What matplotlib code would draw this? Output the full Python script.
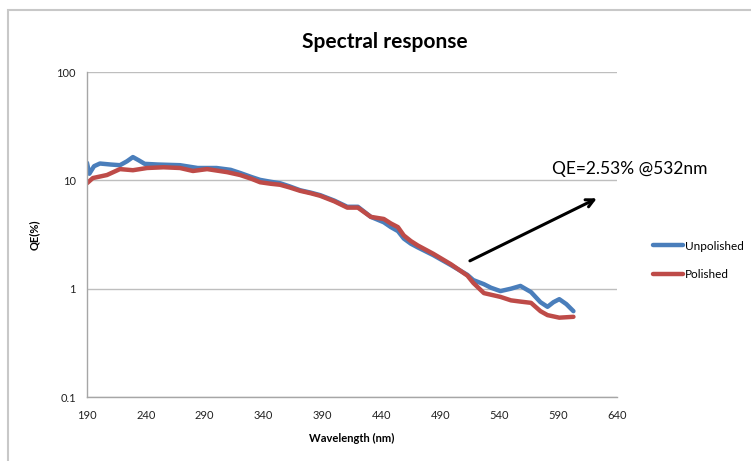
import matplotlib.pyplot as plt
from matplotlib.patches import Rectangle
from matplotlib.ticker import FixedLocator, NullLocator

plt.rcParams['font.family'] = ['Lato', 'DejaVu Sans']

# Quantum efficiency (%) vs wavelength (nm)
unpolished_nm = [190, 192, 196, 201, 210, 218, 224, 229, 234, 239, 250, 269, 284, 300,
                 312, 320, 330, 337, 346, 354, 362, 371, 380, 388, 400, 411, 420, 431,
                 442, 448, 454, 459, 465, 471, 484, 499, 513, 518, 527, 533, 541, 550,
                 558, 567, 575, 581, 586, 591, 597, 603]
unpolished_qe = [14.5, 11.5, 13.5, 14.3, 14.0, 13.8, 15.0, 16.4, 15.3, 14.2, 14.0, 13.8,
                 13.0, 13.0, 12.5, 11.7, 10.7, 10.1, 9.7, 9.4, 8.8, 8.1, 7.7, 7.3, 6.5,
                 5.7, 5.7, 4.6, 4.1, 3.7, 3.4, 2.9, 2.6, 2.4, 2.04, 1.65, 1.34, 1.2, 1.10,
                 1.02, 0.95, 1.0, 1.06, 0.93, 0.75, 0.68, 0.75, 0.80, 0.72, 0.62]

polished_nm = [190, 195, 207, 218, 229, 241, 255, 269, 280, 292, 309, 320, 330, 337, 346,
               354, 362, 371, 380, 388, 400, 411, 420, 431, 442, 448, 454, 459, 465, 471,
               484, 499, 513, 518, 527, 541, 550, 558, 567, 575, 581, 591, 603]
polished_qe = [9.4, 10.5, 11.2, 12.7, 12.4, 13.0, 13.2, 13.0, 12.2, 12.7, 11.9, 11.2, 10.3,
               9.6, 9.3, 9.1, 8.6, 8.0, 7.6, 7.2, 6.4, 5.6, 5.6, 4.6, 4.4, 4.0, 3.7, 3.1,
               2.75, 2.5, 2.1, 1.68, 1.32, 1.13, 0.91, 0.84, 0.78, 0.76, 0.74, 0.62, 0.57,
               0.54, 0.55]

x_ticks = [190, 240, 290, 340, 390, 440, 490, 540, 590, 640]
y_ticks = [0.1, 1, 10, 100]
y_tick_labels = ['0.1', '1', '10', '100']

fig = plt.figure(figsize=(7.51, 4.61), dpi=100)
ax = fig.add_axes([0.1158, 0.1388, 0.7058, 0.705])

# outer chart border (only top/left visible)
fig.patches.append(Rectangle((8 / 751, -0.5), 2, 0.5 + 1 - 10 / 461,
                             transform=fig.transFigure, fill=False,
                             edgecolor='#c8c8c8', linewidth=1.5, zorder=0))

ax.plot(unpolished_nm, unpolished_qe, color='#4a7ebb', lw=3.2,
        solid_joinstyle='round', solid_capstyle='round', label='Unpolished')
ax.plot(polished_nm, polished_qe, color='#be4b48', lw=3.2,
        solid_joinstyle='round', solid_capstyle='round', label='Polished')

ax.set_yscale('log')
ax.set_xlim(190, 640)
ax.set_ylim(0.1, 100)
ax.set_xticks(x_ticks)
ax.yaxis.set_major_locator(FixedLocator(y_ticks))
ax.yaxis.set_minor_locator(NullLocator())
ax.set_yticklabels(y_tick_labels)
ax.tick_params(length=0, labelsize=8, colors='#222222')
ax.tick_params(axis='x', pad=9)
ax.tick_params(axis='y', pad=8)

ax.grid(axis='y', color='#bebebe', lw=1)
for s in ['top', 'right']:
    ax.spines[s].set_visible(False)
for s in ['left', 'bottom']:
    ax.spines[s].set_color('#a6a6a6')
    ax.spines[s].set_linewidth(1)

ax.set_xlabel('Wavelength (nm)', fontsize=8, fontweight='bold', labelpad=9)
ax.set_ylabel('QE(%)', fontsize=8, fontweight='bold', labelpad=12)
fig.text(0.513, 1 - 42 / 461, 'Spectral response', ha='center', va='center',
         fontsize=15, fontweight='bold')

ax.annotate('', xy=(625, 7.0), xytext=(513, 1.76),
            arrowprops=dict(arrowstyle='->', color='black', lw=2.2,
                            mutation_scale=14))
ax.text(585, 12.6, 'QE=2.53% @532nm', fontsize=12.5, va='center', ha='left',
        clip_on=False)

fig.legend(loc='center left', bbox_to_anchor=(0.855, 0.435), frameon=False,
           fontsize=8.5, handlelength=2.6, labelspacing=1.5, handletextpad=0.1)

fig.savefig('out.png', dpi=100)
